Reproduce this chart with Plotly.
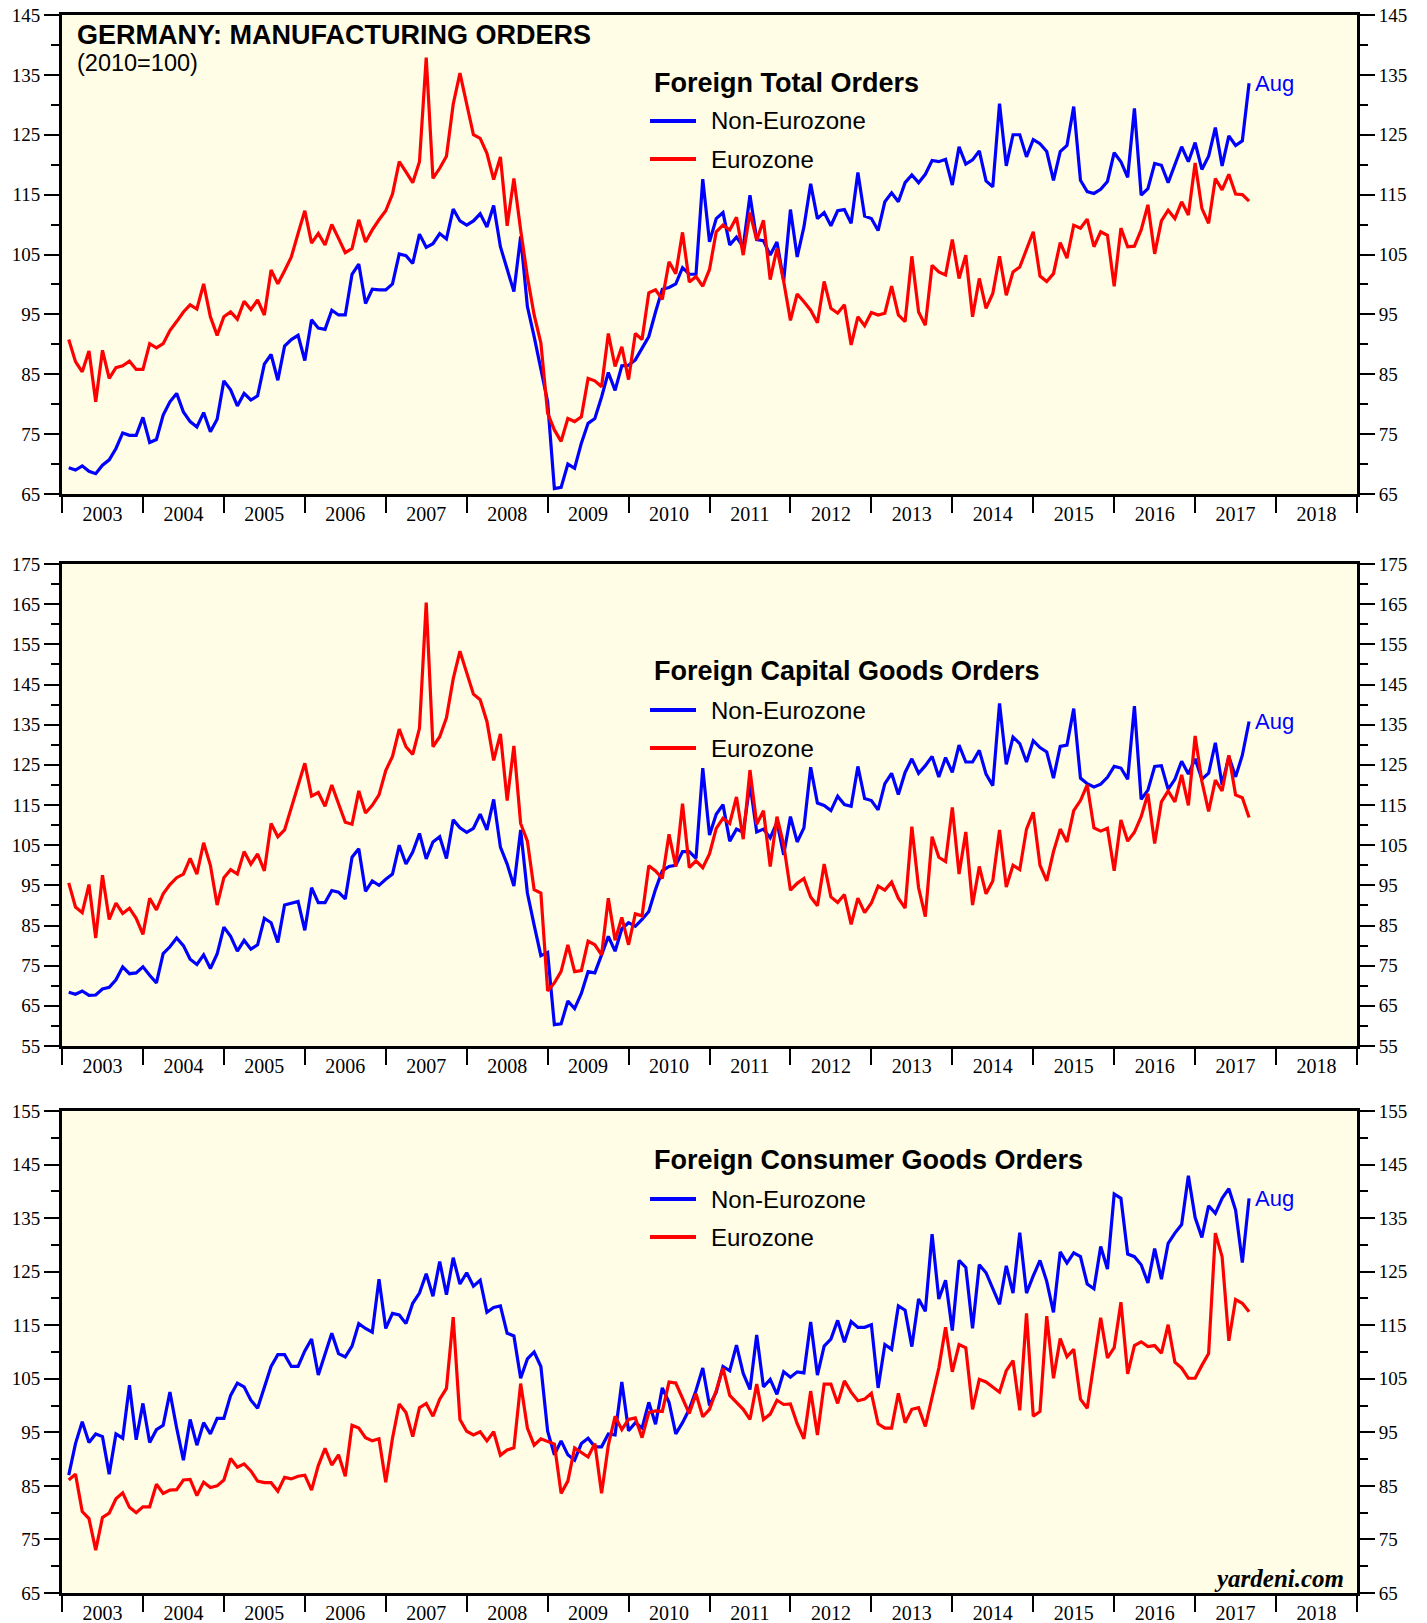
import plotly.graph_objects as go
import pandas as pd

# ---------------- data (monthly, Jan 2003 .. Aug 2017, 2010=100) ----------------
months = pd.date_range("2003-01-01", "2017-08-01", freq="MS")
x_vals = [d.year + d.month / 12 for d in months]
years = list(range(2003, 2019))

total_non = [
    69.4, 69.0, 69.7, 68.8, 68.4, 69.8, 70.7, 72.6, 75.2, 74.8, 74.8, 77.8,
    73.6, 74.1, 78.2, 80.4, 81.8, 78.7, 77.1, 76.2, 78.6, 75.4, 77.5, 83.9,
    82.4, 79.7, 81.8, 80.7, 81.4, 86.7, 88.3, 84.0, 89.7, 90.8, 91.5, 87.3,
    94.1, 92.7, 92.5, 95.7, 94.9, 94.9, 101.7, 103.4, 96.8, 99.2, 99.1, 99.1,
    100.1, 105.1, 104.8, 103.5, 108.4, 106.2, 106.8, 108.5, 107.6, 112.6, 110.6, 109.9,
    110.6, 111.8, 109.6, 113.2, 106.3, 102.4, 98.8, 108.0, 96.3, 91.3, 85.7, 80.4,
    65.9, 66.1, 70.0, 69.3, 73.5, 76.8, 77.6, 81.2, 85.3, 82.3, 86.4, 86.5,
    87.4, 89.3, 91.3, 95.4, 99.2, 99.5, 100.1, 102.8, 101.7, 101.7, 117.6, 107.1,
    111.0, 112.0, 106.6, 107.9, 106.3, 114.9, 107.5, 107.3, 104.9, 107.1, 100.6, 112.5,
    104.6, 109.6, 116.8, 111.0, 112.0, 109.8, 112.3, 112.5, 110.2, 118.7, 111.4, 111.0,
    109.0, 113.8, 115.3, 113.8, 117.0, 118.3, 117.0, 118.4, 120.7, 120.5, 120.9, 116.6,
    123.0, 120.1, 120.8, 122.3, 117.3, 116.3, 130.2, 119.8, 125.0, 125.0, 121.3, 124.2,
    123.5, 122.2, 117.4, 122.2, 123.2, 129.7, 117.4, 115.5, 115.2, 115.9, 117.2, 122.0,
    120.5, 117.9, 129.4, 114.9, 116.0, 120.2, 119.9, 117.0, 119.9, 123.0, 120.5, 123.7,
    119.2, 121.4, 126.2, 119.8, 124.8, 123.2, 124.0, 133.6,
]
total_euro = [
    90.8, 87.1, 85.4, 88.9, 80.4, 89.0, 84.3, 86.1, 86.4, 87.2, 85.8, 85.8,
    90.1, 89.4, 90.1, 92.3, 93.8, 95.4, 96.6, 95.9, 100.1, 94.6, 91.5, 94.6,
    95.4, 94.2, 97.2, 95.8, 97.4, 94.9, 102.4, 100.1, 102.3, 104.6, 108.5, 112.3,
    106.9, 108.5, 106.6, 110.0, 107.7, 105.3, 106.0, 110.8, 107.1, 109.1, 110.8, 112.3,
    115.1, 120.5, 118.8, 117.0, 120.5, 137.9, 117.7, 119.4, 121.4, 130.1, 135.3, 130.0,
    125.0, 124.4, 121.9, 117.5, 121.3, 109.8, 117.7, 109.1, 101.3, 94.9, 90.2, 78.5,
    75.7, 73.8, 77.6, 77.1, 77.9, 84.3, 83.9, 82.9, 91.8, 86.3, 89.6, 84.1,
    91.8, 90.8, 98.6, 99.1, 97.5, 103.8, 101.8, 108.7, 100.4, 101.3, 99.7, 102.5,
    108.8, 109.9, 109.1, 111.2, 104.9, 112.0, 107.4, 110.7, 100.8, 106.0, 100.5, 94.0,
    98.4, 97.1, 95.7, 93.6, 100.5, 96.0, 95.2, 96.6, 89.9, 94.6, 93.1, 95.3,
    94.9, 95.2, 99.7, 94.9, 93.8, 104.7, 95.4, 93.2, 103.2, 102.1, 101.6, 107.5,
    101.0, 104.9, 94.6, 101.0, 96.0, 98.5, 104.7, 98.2, 102.1, 102.9, 105.7, 108.8,
    101.4, 100.5, 101.8, 107.0, 104.4, 109.9, 109.4, 110.9, 106.3, 108.8, 108.2, 99.7,
    109.4, 106.3, 106.4, 109.1, 113.3, 105.1, 110.6, 112.4, 111.0, 113.8, 111.6, 120.3,
    112.7, 110.2, 117.7, 115.8, 118.4, 115.1, 115.0, 113.9,
]
capital_non = [
    68.4, 67.9, 68.7, 67.6, 67.7, 69.2, 69.6, 71.5, 74.7, 73.0, 73.2, 74.7,
    72.6, 70.7, 78.0, 79.7, 81.9, 80.0, 76.6, 75.3, 77.7, 74.3, 77.9, 84.6,
    82.3, 78.6, 81.3, 79.1, 80.2, 86.8, 85.7, 80.8, 90.1, 90.6, 91.0, 83.8,
    94.4, 90.7, 90.7, 93.7, 93.3, 91.6, 102.0, 104.1, 93.5, 96.1, 95.0, 96.5,
    97.8, 105.0, 100.3, 103.3, 107.9, 101.6, 105.8, 107.1, 101.7, 111.3, 109.3, 108.2,
    109.2, 112.7, 108.8, 116.4, 104.5, 100.3, 94.8, 108.8, 93.1, 85.1, 77.5, 78.3,
    60.3, 60.5, 66.2, 64.3, 68.1, 73.5, 73.2, 77.7, 82.3, 78.6, 84.2, 85.7,
    84.8, 86.5, 88.5, 94.0, 98.6, 99.7, 100.0, 103.4, 103.4, 101.7, 124.2, 107.5,
    112.7, 115.1, 106.0, 109.0, 108.2, 120.3, 108.3, 109.0, 106.8, 110.7, 102.6, 112.1,
    105.8, 109.3, 124.4, 115.5, 114.9, 113.6, 117.2, 115.1, 114.7, 124.6, 116.6, 116.1,
    113.8, 120.3, 122.9, 117.6, 123.1, 126.5, 122.9, 124.8, 127.1, 122.0, 126.8, 123.1,
    129.9, 125.7, 125.7, 128.6, 122.7, 119.8, 140.3, 125.1, 131.9, 130.3, 125.7, 131.0,
    129.3, 128.2, 121.7, 129.6, 129.9, 139.0, 121.7, 120.3, 119.5, 120.2, 121.9, 124.6,
    124.2, 121.4, 139.6, 116.4, 118.7, 124.6, 124.8, 118.9, 121.4, 125.9, 122.7, 126.5,
    121.4, 122.9, 130.5, 120.0, 127.1, 122.0, 127.4, 135.8,
]
capital_euro = [
    95.6, 89.6, 88.2, 95.2, 81.9, 97.5, 86.5, 90.6, 88.0, 89.3, 86.8, 82.8,
    91.8, 88.9, 92.9, 95.2, 96.9, 97.8, 101.7, 97.8, 105.6, 100.0, 90.1, 96.9,
    98.9, 97.8, 103.4, 100.3, 102.8, 98.6, 110.4, 107.1, 108.8, 114.3, 119.5, 125.4,
    117.2, 118.1, 114.7, 120.0, 115.3, 110.7, 110.2, 118.5, 113.0, 114.9, 117.5, 123.6,
    127.1, 133.9, 129.5, 127.6, 134.1, 165.4, 129.5, 132.0, 136.7, 146.4, 153.3, 147.6,
    142.6, 141.2, 135.8, 126.1, 132.7, 116.1, 129.7, 110.4, 106.0, 93.9, 93.1, 68.7,
    70.7, 73.6, 80.2, 73.5, 73.8, 81.1, 80.2, 77.7, 91.8, 81.3, 87.0, 80.2,
    87.9, 87.4, 99.9, 98.6, 96.7, 107.7, 99.7, 115.3, 99.4, 101.1, 99.4, 102.8,
    109.2, 111.7, 110.4, 117.0, 106.5, 123.7, 110.2, 113.6, 99.7, 112.1, 105.1, 93.8,
    95.5, 96.7, 92.1, 89.9, 100.3, 92.1, 90.7, 92.7, 85.3, 91.8, 88.2, 90.6,
    94.8, 93.8, 95.8, 91.8, 89.3, 109.6, 94.4, 87.2, 107.1, 102.0, 100.9, 114.4,
    97.8, 108.3, 90.1, 99.7, 92.9, 96.1, 108.8, 94.6, 100.0, 98.9, 109.0, 113.2,
    100.0, 96.1, 103.4, 109.0, 105.8, 113.6, 116.1, 120.0, 109.3, 108.5, 109.2, 98.6,
    111.3, 106.0, 108.2, 112.1, 117.8, 105.4, 115.8, 118.5, 115.8, 122.5, 114.9, 132.2,
    120.9, 113.4, 121.2, 118.5, 127.4, 117.5, 116.8, 111.9,
]
consumer_non = [
    87.0, 92.9, 97.0, 93.1, 94.7, 94.2, 87.2, 94.7, 93.9, 103.8, 93.6, 100.4,
    93.1, 95.5, 96.3, 102.5, 95.8, 89.8, 97.4, 92.6, 96.8, 94.7, 97.6, 97.6,
    101.9, 104.2, 103.5, 101.0, 99.5, 103.5, 107.3, 109.5, 109.5, 107.3, 107.3, 110.2,
    112.4, 105.7, 109.5, 113.5, 109.7, 109.1, 111.1, 115.3, 114.4, 113.7, 123.6, 114.4,
    117.2, 116.9, 115.3, 119.1, 121.0, 124.6, 120.4, 126.9, 120.7, 127.6, 122.7, 124.8,
    122.3, 123.4, 117.4, 118.3, 118.6, 113.5, 113.0, 105.1, 108.7, 110.0, 107.3, 95.2,
    90.8, 93.4, 90.8, 89.8, 92.9, 93.9, 92.3, 92.3, 94.7, 94.5, 104.4, 95.3,
    96.8, 95.8, 100.6, 96.5, 103.3, 100.6, 94.7, 96.8, 99.3, 102.8, 107.0, 100.0,
    102.5, 107.3, 106.5, 111.3, 106.0, 103.0, 113.2, 103.5, 104.9, 102.1, 106.3, 105.3,
    106.3, 106.1, 115.6, 105.7, 111.1, 112.4, 115.9, 111.8, 115.7, 114.6, 114.6, 115.1,
    103.3, 111.4, 110.5, 118.6, 117.8, 111.0, 119.9, 117.6, 132.0, 119.9, 123.4, 114.0,
    127.1, 125.8, 114.4, 126.3, 124.8, 122.0, 118.9, 126.1, 121.0, 132.3, 121.0, 124.2,
    127.1, 123.2, 117.4, 128.7, 126.6, 128.5, 127.8, 122.7, 121.8, 129.7, 125.5, 139.5,
    138.7, 128.3, 127.8, 126.3, 122.9, 129.3, 123.6, 130.3, 132.2, 133.8, 142.9, 135.1,
    131.4, 137.3, 135.9, 138.7, 140.5, 136.5, 126.7, 138.7,
]
consumer_euro = [
    86.1, 87.2, 80.2, 78.9, 73.0, 79.1, 79.9, 82.6, 83.7, 81.0, 80.0, 81.1,
    81.1, 85.3, 83.6, 84.2, 84.3, 86.1, 86.2, 83.2, 85.7, 84.7, 85.0, 86.1,
    90.1, 88.5, 89.1, 87.8, 85.9, 85.6, 85.6, 84.0, 86.6, 86.3, 86.8, 87.0,
    84.2, 88.8, 92.0, 88.9, 90.8, 86.8, 96.3, 95.8, 94.0, 93.4, 93.8, 85.7,
    93.9, 100.3, 98.7, 94.2, 99.6, 100.4, 98.0, 101.2, 103.2, 116.5, 97.4, 95.2,
    94.5, 95.1, 93.4, 95.1, 90.7, 91.7, 92.1, 104.1, 95.8, 92.6, 93.8, 93.3,
    92.8, 83.6, 85.9, 92.1, 91.2, 90.4, 92.9, 83.6, 92.6, 98.0, 95.5, 97.4,
    97.7, 94.0, 98.7, 99.0, 98.9, 104.4, 104.2, 101.2, 98.5, 102.2, 97.9, 99.3,
    102.8, 107.0, 101.9, 100.6, 99.3, 97.4, 104.0, 97.4, 98.4, 101.0, 100.2, 100.3,
    96.6, 93.8, 102.7, 94.5, 104.0, 104.0, 100.4, 104.6, 102.5, 100.9, 101.2, 102.3,
    96.6, 95.8, 95.8, 102.3, 96.8, 99.3, 99.6, 96.1, 101.6, 107.0, 114.6, 106.3,
    111.4, 110.8, 99.3, 104.9, 104.4, 103.5, 102.5, 106.5, 108.4, 99.1, 117.2, 98.0,
    98.9, 116.7, 105.1, 112.5, 109.1, 110.5, 101.2, 99.5, 107.9, 116.4, 108.9, 110.8,
    119.3, 105.9, 111.2, 111.9, 111.0, 111.2, 109.8, 115.1, 108.1, 107.0, 105.1, 105.1,
    107.5, 109.7, 132.2, 127.8, 112.1, 119.8, 119.1, 117.5,
]

panel_titles = ["Foreign Total Orders", "Foreign Capital Goods Orders",
                "Foreign Consumer Goods Orders"]
series_names = ["Non-Eurozone", "Eurozone"]
y_ranges = [[65, 145], [55, 175], [65, 155]]
last_label = "Aug"

# ---------------- layout geometry (pixels) ----------------
W, H = 1427, 1623
L, R, T, B = 62, 70, 15, 30
PW, PH = W - L - R, H - T - B


def py(pix):
    return (H - B - pix) / PH


def px(pix):
    return (pix - L) / PW


panel_px = [(15, 494), (564, 1046), (1111, 1593)]
legend_title_px = [83, 671, 1160]
legend_non_px = [121, 710, 1199]
legend_euro_px = [159, 748, 1237]

BLUE, RED = "#0000FF", "#FF0000"
SERIF = "Liberation Serif, Times New Roman, serif"
SANS = "Liberation Sans, Arial, Helvetica, sans-serif"

panels = [(total_non, total_euro), (capital_non, capital_euro),
          (consumer_non, consumer_euro)]

fig = go.Figure()
layout = dict(
    width=W, height=H, margin=dict(l=L, r=R, t=T, b=B, autoexpand=False),
    paper_bgcolor="white", plot_bgcolor="#FFFDE6", showlegend=False,
)
annotations, shapes = [], []

for i, (non, euro) in enumerate(panels):
    sfx = "" if i == 0 else str(i + 1)
    rsfx = str(i + 4)
    top, bot = panel_px[i]
    dom = [py(bot), py(top)]
    tickfont = dict(family=SERIF, size=19, color="black")
    layout[f"xaxis{sfx}"] = dict(
        domain=[0, 1], anchor=f"y{sfx}", range=[2003, 2019], automargin=False,
        tickmode="array", tickvals=[y + 0.5 for y in years],
        ticktext=[str(y) for y in years], ticks="",
        ticklabelstandoff=0,
        tickfont=dict(family=SERIF, size=20, color="black"),
        showline=True, linewidth=3, linecolor="black", mirror=True,
        showgrid=False, zeroline=False,
        minor=dict(tickmode="array", tickvals=years + [2019], ticks="outside",
                   ticklen=16, tickwidth=2, tickcolor="black"),
    )
    ycommon = dict(
        range=y_ranges[i], tickmode="linear", tick0=5, dtick=10, automargin=False,
        ticks="outside", ticklen=15, tickwidth=2, tickcolor="black",
        minor=dict(tick0=0, dtick=5, ticks="outside", ticklen=8,
                   tickwidth=2, tickcolor="black"),
        tickfont=tickfont, showgrid=False, zeroline=False,
        showline=True, linewidth=3, linecolor="black",
        ticklabelstandoff=0,
    )
    layout[f"yaxis{sfx}"] = dict(domain=dom, anchor=f"x{sfx}", side="left",
                                 mirror=True, **ycommon)
    layout[f"yaxis{rsfx}"] = dict(overlaying=f"y{sfx}", anchor=f"x{sfx}",
                                  side="right", **ycommon)

    fig.add_trace(go.Scatter(x=x_vals, y=non, mode="lines", name=series_names[0],
                             line=dict(color=BLUE, width=3.2),
                             xaxis=f"x{sfx}", yaxis=f"y{sfx}"))
    fig.add_trace(go.Scatter(x=x_vals, y=euro, mode="lines", name=series_names[1],
                             line=dict(color=RED, width=3.2),
                             xaxis=f"x{sfx}", yaxis=f"y{rsfx}"))

    # legend block
    annotations.append(dict(x=px(652), y=py(legend_title_px[i]), xref="paper",
                            yref="paper", text=f"<b>{panel_titles[i]}</b>",
                            showarrow=False, xanchor="left", yanchor="middle",
                            font=dict(family=SANS, size=27, color="black")))
    for name, ypix, col in [(series_names[0], legend_non_px[i], BLUE),
                            (series_names[1], legend_euro_px[i], RED)]:
        shapes.append(dict(type="line", xref="paper", yref="paper",
                           x0=px(650), x1=px(696), y0=py(ypix), y1=py(ypix),
                           line=dict(color=col, width=4)))
        annotations.append(dict(x=px(709), y=py(ypix), xref="paper", yref="paper",
                                text=name, showarrow=False, xanchor="left",
                                yanchor="middle",
                                font=dict(family=SANS, size=24, color="black")))
    # last-value label
    annotations.append(dict(x=x_vals[-1], y=non[-1], xref=f"x{sfx}", yref=f"y{sfx}",
                            text=last_label, showarrow=False, xanchor="left",
                            yanchor="middle", xshift=4,
                            font=dict(family=SANS, size=22, color=BLUE)))

annotations.append(dict(x=px(75), y=py(35), xref="paper", yref="paper",
                        text="<b>GERMANY: MANUFACTURING ORDERS</b>", showarrow=False,
                        xanchor="left", yanchor="middle",
                        font=dict(family=SANS, size=27, color="black")))
annotations.append(dict(x=px(75), y=py(63), xref="paper", yref="paper",
                        text="(2010=100)", showarrow=False,
                        xanchor="left", yanchor="middle",
                        font=dict(family=SANS, size=23.5, color="black")))
annotations.append(dict(x=px(1346), y=py(1578), xref="paper", yref="paper",
                        text="<b><i>yardeni.com</i></b>", showarrow=False,
                        xanchor="right", yanchor="middle",
                        font=dict(family=SERIF, size=25, color="black")))

layout["annotations"] = annotations
layout["shapes"] = shapes
fig.update_layout(**layout)
fig.write_html("out.html",
               config={"displayModeBar": False, "staticPlot": False},
               post_script="document.body.style.margin='0';"
                           "document.body.style.padding='0';")
